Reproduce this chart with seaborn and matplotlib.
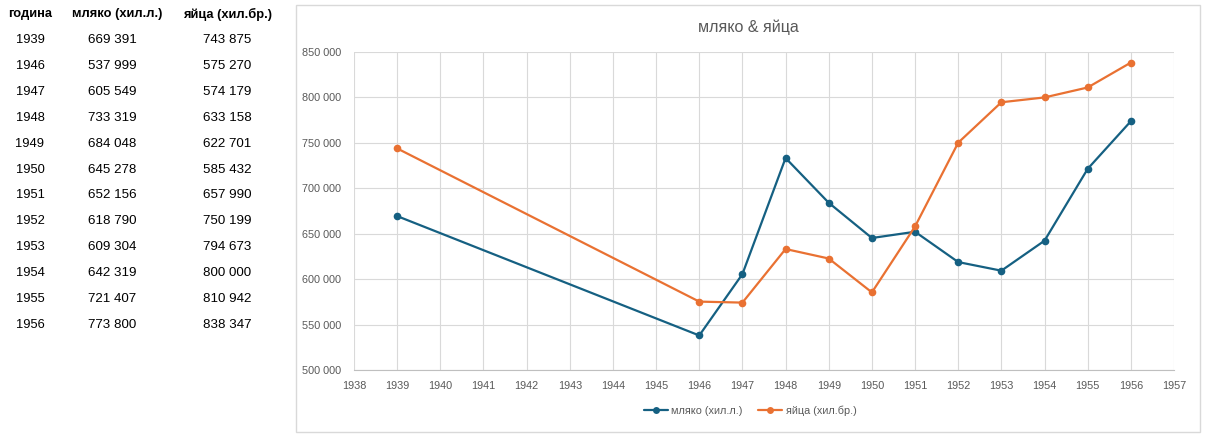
import matplotlib
matplotlib.use("Agg")
import matplotlib.pyplot as plt
import seaborn as sns
import pandas as pd
from matplotlib.patches import Rectangle
from matplotlib.ticker import FuncFormatter, MultipleLocator

years = [1939, 1946, 1947, 1948, 1949, 1950, 1951, 1952, 1953, 1954, 1955, 1956]
milk = [669391, 537999, 605549, 733319, 684048, 645278, 652156, 618790, 609304, 642319, 721407, 773800]
eggs = [743875, 575270, 574179, 633158, 622701, 585432, 657990, 750199, 794673, 800000, 810942, 838347]
milk_name = "мляко (хил.л.)"
eggs_name = "яйца (хил.бр.)"
header = ["година", milk_name, eggs_name]
title = "мляко & яйца"

colors = {milk_name: "#156082", eggs_name: "#E97132"}

sns.set_theme(style="white")
plt.rcParams['font.family'] = ['Liberation Sans', 'DejaVu Sans']

def fmt(v):
    return f"{int(v):,}".replace(",", " ")

df = pd.DataFrame({
    "year": years * 2,
    "value": milk + eggs,
    "series": [milk_name] * len(years) + [eggs_name] * len(years),
})

fig = plt.figure(figsize=(12.06, 4.4), dpi=100)
fig.patch.set_facecolor("white")

# chart border
fig.patches.append(Rectangle((296 / 1206, 1 - 432 / 440), 904 / 1206, 427 / 440,
                             transform=fig.transFigure, fill=False,
                             edgecolor="#d9d9d9", linewidth=1.0))

ax = fig.add_axes([354 / 1206, 1 - 370 / 440, 820 / 1206, 318 / 440])
sns.lineplot(data=df, x="year", y="value", hue="series", palette=colors,
             marker="o", markersize=5.5, markeredgewidth=0, linewidth=1.6,
             ax=ax, legend=False)

ax.set_xlim(1938, 1957)
ax.set_ylim(500000, 850000)
ax.xaxis.set_major_locator(MultipleLocator(1))
ax.yaxis.set_major_locator(MultipleLocator(50000))
ax.yaxis.set_major_formatter(FuncFormatter(lambda v, p: fmt(v)))
ax.grid(True, color="#d9d9d9", linewidth=0.8)
ax.set_axisbelow(True)
for s in ["top", "right", "left"]:
    ax.spines[s].set_visible(False)
ax.spines["bottom"].set_color("#bfbfbf")
ax.spines["bottom"].set_linewidth(0.8)
ax.tick_params(axis="both", length=0, labelsize=7.8, labelcolor="#595959")
ax.tick_params(axis="y", pad=9)
ax.tick_params(axis="x", pad=8)
ax.set_xlabel("")
ax.set_ylabel("")

fig.text(748 / 1206, 1 - 27 / 440, title, ha="center", va="center",
         fontsize=11.5, color="#595959")

handles = [plt.Line2D([0], [0], color=colors[n], marker="o", markersize=5,
                      markeredgewidth=0, linewidth=1.6) for n in [milk_name, eggs_name]]
fig.legend(handles, [milk_name, eggs_name], loc="center",
           bbox_to_anchor=(750 / 1206, 1 - 411 / 440), ncol=2, frameon=False,
           fontsize=7.8, labelcolor="#595959", handlelength=2.2,
           handletextpad=0.3, columnspacing=1.5)

# table
hx = [30, 117, 228]
for x, h in zip(hx, header):
    fig.text(x / 1206, 1 - 14 / 440, h, ha="center", va="center",
             fontsize=9.3, fontweight="bold", color="black")
for i, (y, m, e) in enumerate(zip(years, milk, eggs)):
    yy = 1 - (40 + i * 25.9) / 440
    fig.text(30 / 1206, yy, str(y), ha="center", va="center", fontsize=9.3, color="black")
    fig.text(112 / 1206, yy, fmt(m), ha="center", va="center", fontsize=9.6, color="black")
    fig.text(227 / 1206, yy, fmt(e), ha="center", va="center", fontsize=9.6, color="black")

fig.savefig("out.png", dpi=100, facecolor="white")
